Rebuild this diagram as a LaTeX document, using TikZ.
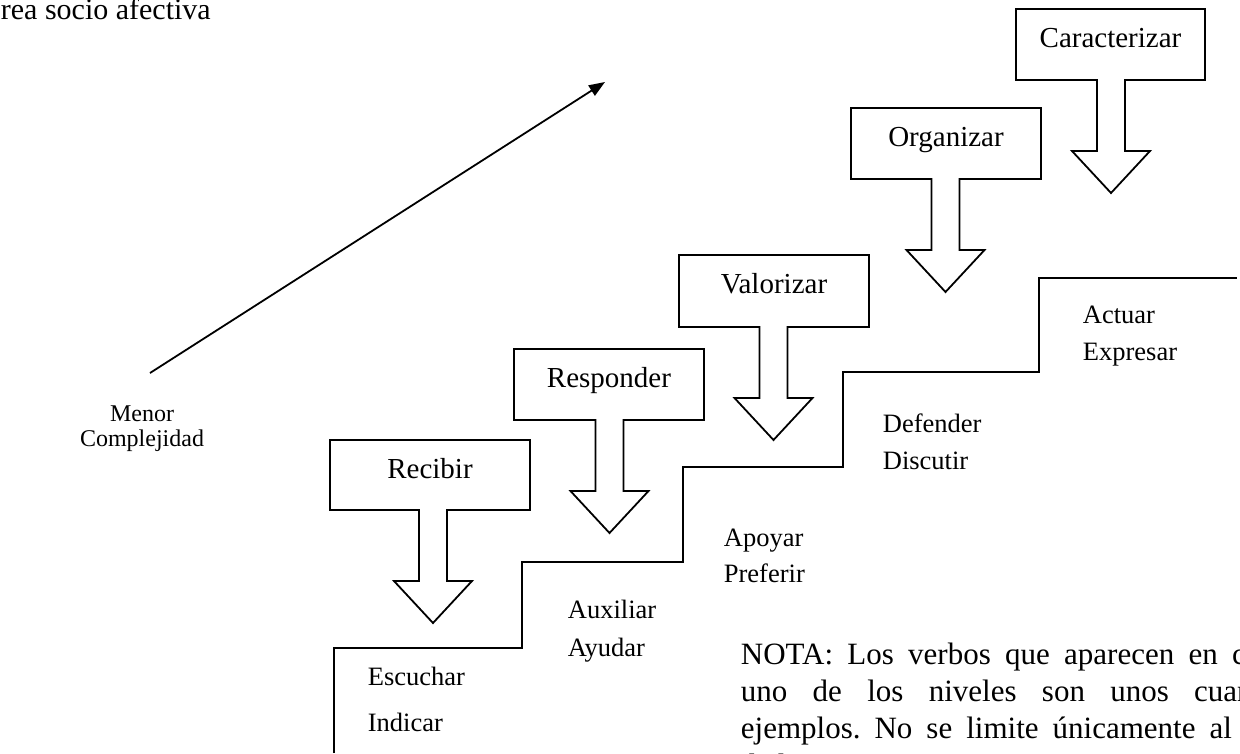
\documentclass[tikz,border=0pt]{standalone}
\usepackage{fontspec}
\setmainfont{Liberation Serif}
\usetikzlibrary{arrows.meta}
\frenchspacing
\newcommand{\callout}[7]{%
  \draw (#3,#5) -- (#4,#5) -- (#4,#6) -- ({#7+14},#6) -- ({#7+14},{#6+71})
    -- ({#7+39},{#6+71}) -- (#7,{#6+113}) -- ({#7-39},{#6+71}) -- ({#7-14},{#6+71})
    -- ({#7-14},#6) -- (#3,#6) -- cycle;
  \node[lbl] (#1) at ({(#3+#4)/2},{#5+38}) {#2};}
\begin{document}
\begin{tikzpicture}[x=1pt,y=-1pt,line width=1.8pt,line join=miter,
  lbl/.style={font=\fontsize{29}{34}\selectfont,anchor=base,inner sep=0pt},
  verb/.style={font=\fontsize{26.5}{31}\selectfont,anchor=base west,inner sep=0pt},
  nota/.style={font=\fontsize{31}{37}\selectfont\frenchspacing,anchor=base west,inner sep=0pt},
  small/.style={font=\fontsize{24}{28}\selectfont,anchor=base,inner sep=0pt}]
\useasboundingbox (0,0) rectangle (1240,753);
% title
\node[anchor=base west,inner sep=0pt,font=\fontsize{30}{36}\selectfont] (title) at (0,19) {rea socio afectiva};
% big arrow
\coordinate (a0) at (150,373);
\coordinate (a1) at (605,82);
\draw[-{Triangle[length=16pt,width=12pt]}] (a0) -- (a1);
% Menor Complejidad
\node[small] (menor) at (142,421) {Menor};
\node[small] (compl) at (142,446) {Complejidad};
% callouts
\callout{recibir}{Recibir}{330}{530}{440}{510}{433}
\callout{responder}{Responder}{514}{704}{349}{420}{609.5}
\callout{valorizar}{Valorizar}{679}{869}{255}{327}{773.5}
\callout{organizar}{Organizar}{851}{1041}{108}{179}{945.5}
\callout{caracterizar}{Caracterizar}{1016}{1205}{9}{80}{1111}
% staircase
\coordinate (s0) at (334,753);
\coordinate (s1) at (334,648);
\coordinate (s2) at (522,648);
\coordinate (s3) at (522,562);
\coordinate (s4) at (683,562);
\coordinate (s5) at (683,467);
\coordinate (s6) at (843,467);
\coordinate (s7) at (843,372);
\coordinate (s8) at (1039,372);
\coordinate (s9) at (1039,278);
\coordinate (s10) at (1237,278);
\draw (s0) -- (s1) -- (s2) -- (s3) -- (s4) -- (s5) -- (s6) -- (s7) -- (s8) -- (s9) -- (s10);
% verbs
\node[verb] (v1) at (367,685) {Escuchar};
\node[verb] (v2) at (367,731) {Indicar};
\node[verb] (v3) at (567,618) {Auxiliar};
\node[verb] (v4) at (567,656) {Ayudar};
\node[verb] (v5) at (723,546) {Apoyar};
\node[verb] (v6) at (723,582) {Preferir};
\node[verb] (v7) at (882,432) {Defender};
\node[verb] (v8) at (882,469) {Discutir};
\node[verb] (v9) at (1082,323) {Actuar};
\node[verb] (v10) at (1082,360) {Expresar};
% nota
\node[nota] (n1) at (740,664) {\makebox[548pt][s]{NOTA: Los verbos que aparecen en cada}};
\node[nota] (n2) at (740,701) {\makebox[548pt][s]{uno de los niveles son unos cuantos}};
\node[nota] (n3) at (740,738) {\makebox[548pt][s]{ejemplos. No se limite únicamente al uso}};
\node[nota] (n4) at (740,775) {de los mismos.};
\end{tikzpicture}
\end{document}
